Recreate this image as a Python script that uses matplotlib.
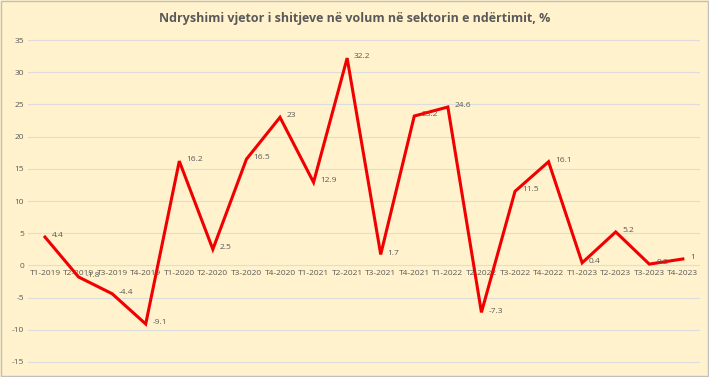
import matplotlib
matplotlib.use("Agg")
import matplotlib.pyplot as plt

categories = ["T1-2019", "T2-2019", "T3-2019", "T4-2019", "T1-2020", "T2-2020", "T3-2020", "T4-2020",
              "T1-2021", "T2-2021", "T3-2021", "T4-2021", "T1-2022", "T2-2022", "T3-2022", "T4-2022",
              "T1-2023", "T2-2023", "T3-2023", "T4-2023"]
values = [4.4, -1.8, -4.4, -9.1, 16.2, 2.5, 16.5, 23, 12.9, 32.2, 1.7, 23.2, 24.6, -7.3, 11.5, 16.1,
          0.4, 5.2, 0.2, 1]
labels = ["4.4", "-1.8", "-4.4", "-9.1", "16.2", "2.5", "16.5", "23", "12.9", "32.2", "1.7", "23.2",
          "24.6", "-7.3", "11.5", "16.1", "0.4", "5.2", "0.2", "1"]
title = "Ndryshimi vjetor i shitjeve në volum në sektorin e ndërtimit, %"
yticks = [-15, -10, -5, 0, 5, 10, 15, 20, 25, 30, 35]

bg = "#FFF2CC"
plt.rcParams['font.family'] = ['Open Sans', 'DejaVu Sans']

fig = plt.figure(figsize=(7.09, 3.77), dpi=100, facecolor=bg)
fig.patches.append(plt.Rectangle((0.002, 0.003), 0.996, 0.994, transform=fig.transFigure,
                                 fill=False, edgecolor="#BFBFBF", linewidth=1))
ax = fig.add_axes([0.0398, 0.0313, 0.947, 0.871])
ax.set_facecolor(bg)
x = list(range(len(categories)))
ax.plot(x, values, color="#F00000", linewidth=2.2, solid_joinstyle="miter", zorder=3)
for xi, v, lab in zip(x, values, labels):
    ax.annotate(lab, (xi, v), xytext=(5, 1), textcoords="offset points", fontsize=6,
                color="#595959", va="center", ha="left", zorder=4)

ax.set_ylim(-15.5, 35.5)
ax.set_yticks(yticks)
ax.set_yticklabels([str(t) for t in yticks], fontsize=6, color="#595959")
ax.set_xlim(-0.5, len(categories) - 0.5)
ax.set_xticks(x)
ax.set_xticklabels([])
ax.tick_params(axis="both", length=0, pad=3)
ax.grid(axis="y", color="#DDDDDD", linewidth=0.8)
ax.set_axisbelow(True)
for s in ax.spines.values():
    s.set_visible(False)

for xi, c in zip(x, categories):
    ax.text(xi, -1.3, c, fontsize=6, color="#595959", ha="center", va="center", zorder=2)

fig.text(0.5, 0.952, title, ha="center", va="center", fontsize=9, color="#595959", fontweight="bold")
fig.savefig("out.png", dpi=100, facecolor=bg)
